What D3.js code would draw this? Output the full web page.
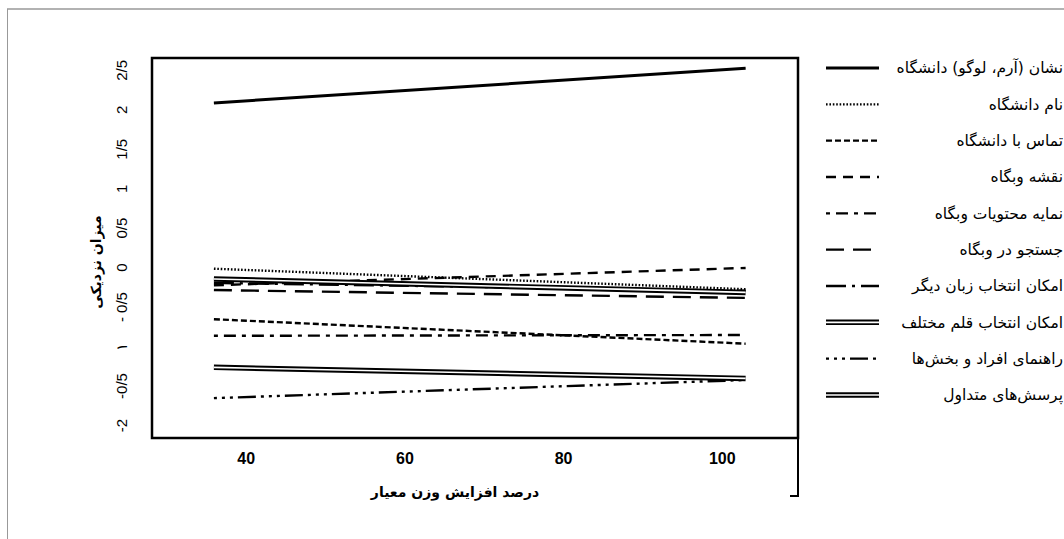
<!DOCTYPE html>
<html>
<head>
<meta charset="utf-8">
<script src="https://cdn.jsdelivr.net/npm/d3@7"></script>
<style>
  body { margin: 0; background: #fff; }
  .tick text { font-family: "Liberation Sans Narrow", "Liberation Sans", sans-serif; }
  .legend text { font-family: "DejaVu Sans", sans-serif; font-size: 15.5px; }
  .title { font-family: "DejaVu Sans", sans-serif; font-weight: bold; font-size: 14px; }
</style>
</head>
<body>
<div id="chart"></div>
<script>
  // series names (legend order)
  const seriesNames = [
    'نشان (آرم، لوگو) دانشگاه',
    'نام دانشگاه',
    'تماس با دانشگاه',
    'نقشه وبگاه',
    'نمایه محتویات وبگاه',
    'جستجو در وبگاه',
    'امکان انتخاب زبان دیگر',
    'امکان انتخاب قلم مختلف',
    'راهنمای افراد و بخش‌ها',
    'پرسش‌های متداول'
  ];
  // x positions of the two end points of each line
  const xPoints = [36, 103];
  // closeness values at start / end
  const startValues = [2.08, -0.02, -0.66, -0.23, -0.87, -0.29, -0.20, -0.15, -1.66, -1.27];
  const endValues   = [2.52, -0.28, -0.97, -0.01, -0.86, -0.39, -0.30, -0.32, -1.43, -1.41];

  const xTicks = [40, 60, 80, 100];
  const yTicks = [-2, -1.5, -1, -0.5, 0, 0.5, 1, 1.5, 2, 2.5];
  const yTickLabels = ['-2', '-0/5', '۱', '- 0/5', '0', '0/5', '1', '1/5', '2', '2/5'];

  // line styles per series
  const dashes = [null, '1.6,1.8', '6,3', '10,7', '4,6,12,6', '18,9', '20,6,3,6', null, '3,5,3,5,3,5,18,5', null];
  const doubled = [false, false, false, false, false, false, false, true, false, true];

  const W = 1064, H = 539;
  const frame = { left: 152, right: 798, top: 58, bottom: 438 };

  const svg = d3.select('#chart').append('svg')
    .attr('width', W).attr('height', H);

  // outer page border
  svg.append('line').attr('x1', 7).attr('x2', W).attr('y1', 9).attr('y2', 9)
    .attr('stroke', '#999').attr('stroke-width', 1.5);
  svg.append('line').attr('x1', 7.5).attr('x2', 7.5).attr('y1', 9).attr('y2', H)
    .attr('stroke', '#999').attr('stroke-width', 1);

  const x = d3.scaleLinear().domain([28.2, 109.6]).range([frame.left, frame.right]);
  const y = d3.scaleLinear().domain([-2.165, 2.65]).range([frame.bottom, frame.top]);

  const data = seriesNames.map((name, i) => ({
    name,
    points: [
      { x: xPoints[0], v: startValues[i] },
      { x: xPoints[1], v: endValues[i] }
    ],
    dash: dashes[i],
    doubled: doubled[i],
    width: i === 0 ? 3 : 2.4
  }));

  const line = d3.line().x(d => x(d.x)).y(d => y(d.v));

  const g = svg.append('g');
  data.forEach(s => {
    if (s.doubled) {
      g.append('path').attr('d', line(s.points)).attr('fill', 'none')
        .attr('stroke', '#000').attr('stroke-width', 5.5);
      g.append('path').attr('d', line(s.points)).attr('fill', 'none')
        .attr('stroke', '#fff').attr('stroke-width', 1.6);
    } else {
      g.append('path').attr('d', line(s.points)).attr('fill', 'none')
        .attr('stroke', '#000').attr('stroke-width', s.width)
        .attr('stroke-dasharray', s.dash);
    }
  });

  // plot frame
  svg.append('rect')
    .attr('x', frame.left).attr('y', frame.top)
    .attr('width', frame.right - frame.left).attr('height', frame.bottom - frame.top)
    .attr('fill', 'none').attr('stroke', '#000').attr('stroke-width', 2.5);

  // legend box left edge continues below the frame
  svg.append('path')
    .attr('d', `M${frame.right},${frame.bottom}V496H${frame.right - 8}`)
    .attr('fill', 'none').attr('stroke', '#000').attr('stroke-width', 2);

  // x axis
  const xAxis = svg.append('g')
    .attr('transform', `translate(0,${frame.bottom + 12})`)
    .call(d3.axisBottom(x).tickValues(xTicks).tickSize(0).tickFormat(d3.format('d')));
  xAxis.select('.domain').remove();
  xAxis.selectAll('text').attr('font-size', 16).attr('font-weight', 'bold').attr('fill', '#000');

  // y axis with rotated labels
  const yAxis = svg.append('g')
    .attr('transform', `translate(${frame.left - 25},0)`)
    .call(d3.axisLeft(y).tickValues(yTicks).tickSize(0).tickFormat((d, i) => yTickLabels[i]));
  yAxis.select('.domain').remove();
  yAxis.selectAll('text')
    .attr('font-size', 15).attr('fill', '#000')
    .attr('x', 0).attr('dy', 0)
    .attr('text-anchor', 'middle')
    .attr('transform', 'rotate(-90)');

  // axis titles
  svg.append('text').attr('class', 'title')
    .attr('x', 455).attr('y', 497).attr('text-anchor', 'middle')
    .attr('direction', 'rtl')
    .text('درصد افزایش وزن معیار');
  svg.append('text').attr('class', 'title')
    .attr('transform', 'translate(101,262) rotate(-90)')
    .attr('text-anchor', 'middle')
    .attr('direction', 'rtl')
    .text('میزان نزدیکی');

  // legend
  const legend = svg.append('g').attr('class', 'legend');
  const rowY = d3.scaleLinear().domain([0, seriesNames.length - 1]).range([68, 395]);
  data.forEach((s, i) => {
    const yy = rowY(i);
    const sample = [{ x: 826, y: yy }, { x: 879, y: yy }];
    const lp = d3.line().x(d => d.x).y(d => d.y);
    if (s.doubled) {
      legend.append('path').attr('d', lp(sample)).attr('stroke', '#000').attr('stroke-width', 5.5);
      legend.append('path').attr('d', lp(sample)).attr('stroke', '#fff').attr('stroke-width', 1.6);
    } else {
      legend.append('path').attr('d', lp(sample)).attr('stroke', '#000')
        .attr('stroke-width', i === 0 ? 3 : 2.4).attr('stroke-dasharray', s.dash);
    }
    legend.append('text')
      .attr('x', 1063).attr('y', yy).attr('dy', '0.35em')
      .attr('direction', 'rtl').attr('text-anchor', 'start')
      .attr('fill', '#000')
      .text(s.name);
  });
</script>
</body>
</html>
